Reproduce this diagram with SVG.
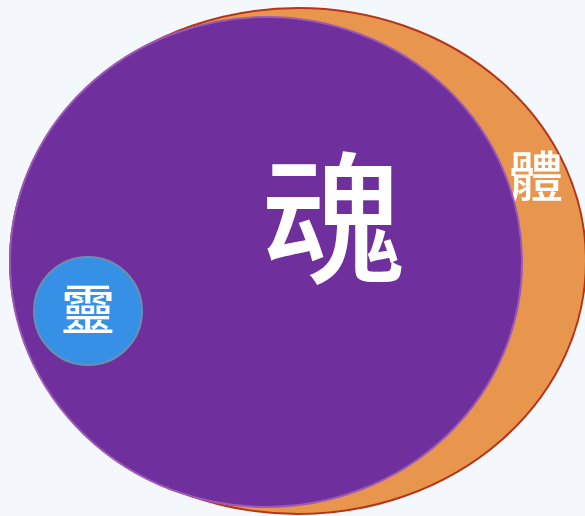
<svg xmlns="http://www.w3.org/2000/svg" width="585" height="516" viewBox="0 0 585 516">
<style>
.lbl{font-family:"Noto Sans CJK TC","Noto Sans CJK SC",sans-serif;fill:#ffffff;text-anchor:middle;dominant-baseline:central;font-weight:500;}
</style>
<rect width="585" height="516" fill="#f4f8fc"/>
<g id="body">
<ellipse cx="298" cy="261" rx="288" ry="253" fill="#e8954e" stroke="#b5341a" stroke-width="2"/>
<text class="lbl" x="536" y="173" font-size="54">體</text>
</g>
<g id="soul">
<ellipse cx="266" cy="262" rx="256" ry="245" fill="#6f2f9c" stroke="#9b59b6" stroke-width="2"/>
<text class="lbl" x="333" y="210" font-size="142">魂</text>
</g>
<g id="spirit">
<circle cx="88" cy="311" r="54" fill="#3590e6" stroke="#6a8fb0" stroke-width="2"/>
<text class="lbl" x="88" y="306" font-size="54">靈</text>
</g>
<g id="connectors"></g>
</svg>
